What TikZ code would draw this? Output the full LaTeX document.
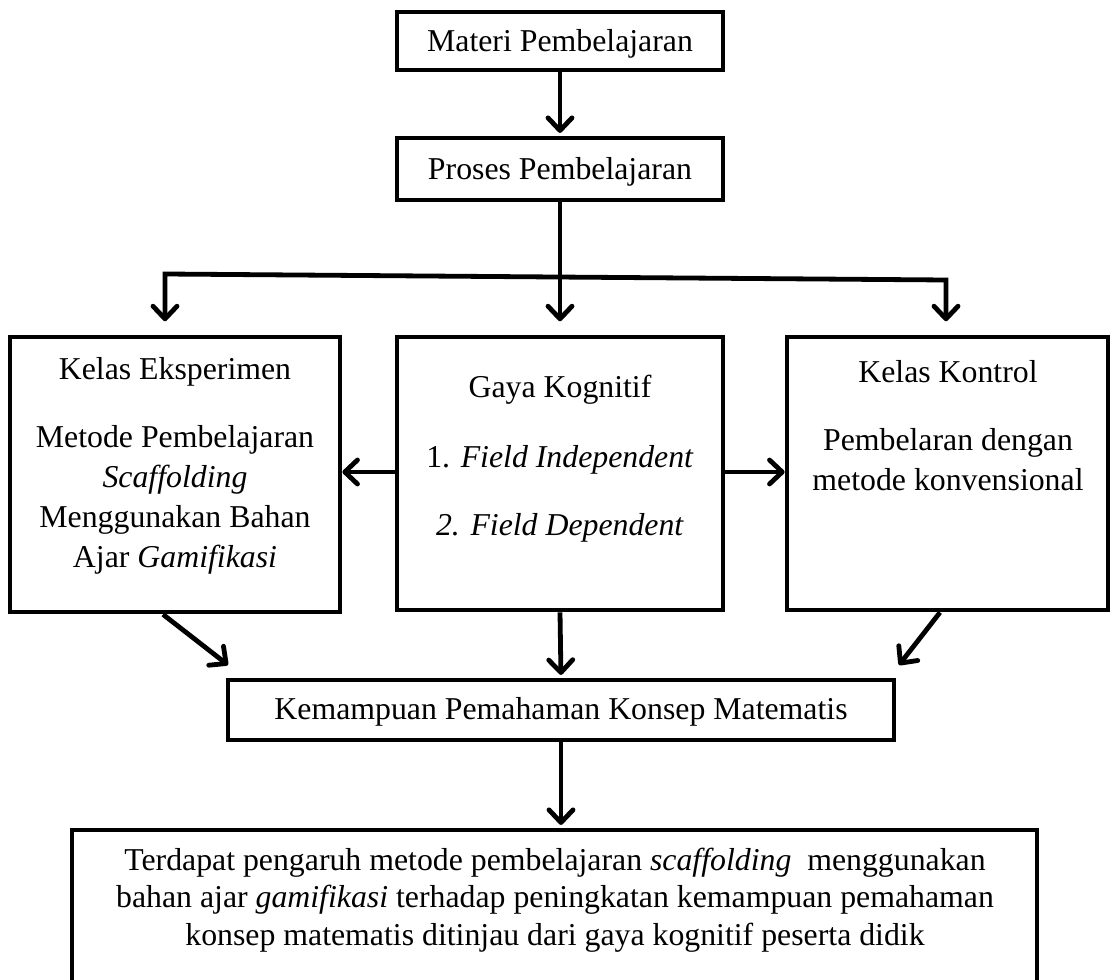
\documentclass[tikz,border=0pt]{standalone}
\usepackage{fontspec}
\setmainfont{Liberation Serif}
\usetikzlibrary{arrows.meta,fit}
\begin{document}
\begin{tikzpicture}[x=0.75pt,y=-0.75pt,
  box/.style={draw=black, line width=3.6pt, inner sep=0pt},
  txt/.style={inner sep=0pt, align=center, font=\fontsize{23.85}{30}\selectfont},
  conn/.style={line width=3.6pt, line join=miter},
  tipV/.tip={Straight Barb[length=9.5pt,width=18pt,round]},
  arr/.style={conn, -tipV},
  arrs/.style={conn, tipV-tipV}]
\useasboundingbox (0,0) rectangle (1110,980);

% boxes
\node[box, fit={(397,12) (723,70)}] (materi) {};
\node[box, fit={(397,138) (723,200)}] (proses) {};
\node[box, fit={(10,337) (340,612)}] (eks) {};
\node[box, fit={(397,337) (723,610)}] (gaya) {};
\node[box, fit={(787,337) (1108,610)}] (kon) {};
\node[box, fit={(228,680) (894,740)}] (kem) {};
\node[box, fit={(72,830) (1037,995)}] (hasil) {};

% texts
\node[txt] (materiT) at (560,44) {Materi Pembelajaran};
\node[txt] (prosesT) at (560,172) {Proses Pembelajaran};
\node[txt] (eksT) at (175,372) {Kelas Eksperimen};
\node[txt] (eksB) at (175,500) {Metode Pembelajaran\\\textit{Scaffolding}\\Menggunakan Bahan\\Ajar \textit{Gamifikasi}};
\node[txt] (gayaT) at (560,390) {Gaya Kognitif};
\node[txt] (gaya1) at (560,460) {1. \textit{Field Independent}};
\node[txt] (gaya2) at (560,528) {\textit{2. Field Dependent}};
\node[txt] (konT) at (948,372) {Kelas Kontrol};
\node[txt] (konB) at (948,460) {Pembelaran dengan\\metode konvensional};
\node[txt] (kemT) at (561,712) {Kemampuan Pemahaman Konsep Matematis};
\node[txt, font=\fontsize{23.85}{28.2}\selectfont] (hasilT) at (555,900) {Terdapat pengaruh metode pembelajaran \textit{scaffolding}\ \ menggunakan\\bahan ajar \textit{gamifikasi} terhadap peningkatan kemampuan pemahaman\\konsep matematis ditinjau dari gaya kognitif peserta didik};

% connectors
\coordinate (L) at (165,274);
\coordinate (R) at (946,280);
\coordinate (ya) at (0,472);
\coordinate (dl) at (163,0);
\coordinate (dr) at (940,0);
\coordinate (kl) at (228,665);
\coordinate (kr) at (899,665);

\draw[arr, shorten >=2pt] (materi.south) -- (proses.north);
\draw[arrs, shorten <=10pt, shorten >=10pt] (eks.north -| L) -- (L) -- (R) -- (kon.north -| R);
\draw[arr, shorten >=10pt] (proses.south) -- (gaya.north);
\draw[arr] (gaya.west |- ya) -- (eks.east |- ya);
\draw[arr] (gaya.east |- ya) -- (kon.west |- ya);
\draw[arr] (eks.south -| dl) -- (kl);
\draw[arr] (kon.south -| dr) -- (kr);
\draw[arr, shorten >=2pt] (gaya.south) -- (kem.north);
\draw[arr, shorten >=2pt] (kem.south) -- (kem.south |- hasil.north);
\end{tikzpicture}
\end{document}
